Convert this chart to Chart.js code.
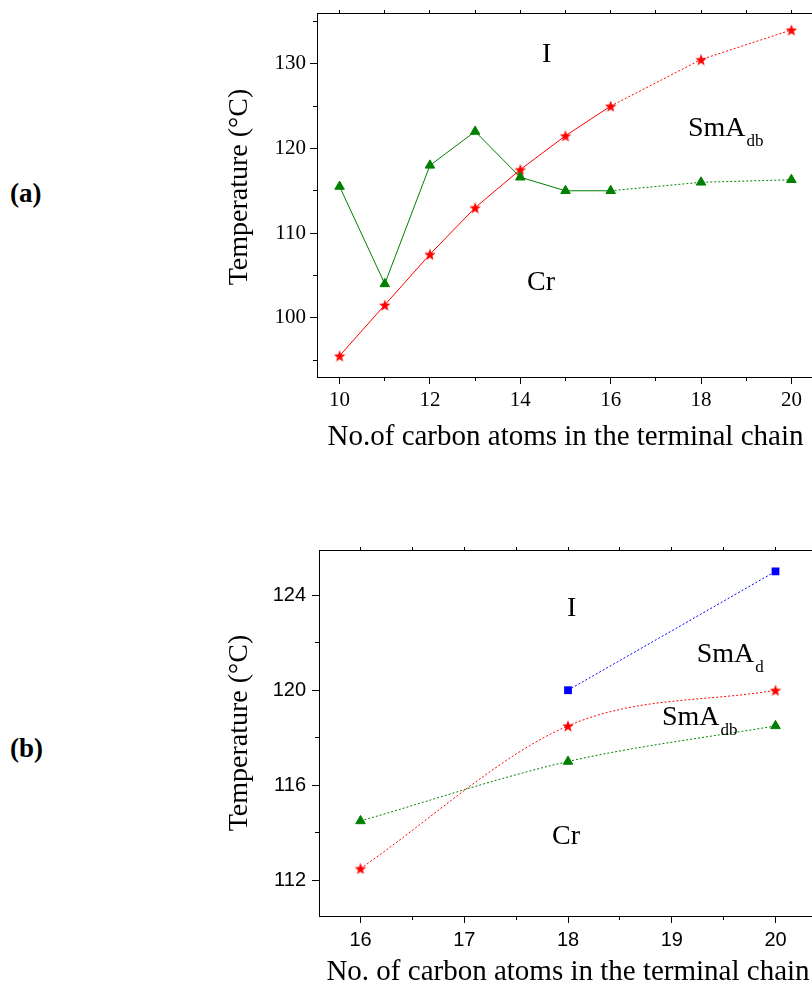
<!DOCTYPE html>
<html>
<head>
<meta charset="utf-8">
<script src="https://cdn.jsdelivr.net/npm/chart.js@4.4.0/dist/chart.umd.min.js"></script>
<style>
html, body { margin: 0; padding: 0; width: 812px; height: 986px; overflow: hidden; background: #fff; }
.panel { position: absolute; left: 200px; width: 640px; }
#wrapA { top: 0; height: 470px; }
#wrapB { top: 500px; height: 500px; }
.tag { position: absolute; left: 10px; font: bold 27px 'Liberation Serif', 'Times New Roman', serif; line-height: 27px; }
</style>
</head>
<body>
<div class="tag" style="top:180px">(a)</div>
<div class="tag" style="top:735px">(b)</div>
<div class="panel" id="wrapA"><canvas id="chartA"></canvas></div>
<div class="panel" id="wrapB"><canvas id="chartB"></canvas></div>
<script>
// ---- panel (a) ----
var carbonA   = [10, 11, 12, 13, 14, 15, 16, 18, 20];
var clearA    = [95.5, 101.5, 107.5, 113, 117.5, 121.5, 125, 130.5, 134];   // red stars
var meltA     = [115.5, 104, 118, 122, 116.6, 115, 115, 116, 116.3];        // green triangles
var xTicksA   = [10, 12, 14, 16, 18, 20];
var xMinorA   = [11, 13, 15, 17, 19];
var yTicksA   = [100, 110, 120, 130];
var yMinorA   = [95, 105, 115, 125, 135];

// ---- panel (b) ----
var carbonB   = [16, 18, 20];
var carbonBd  = [18, 20];
var smadB     = [120, 125];          // blue squares
var clearB    = [112.5, 118.5, 120]; // red stars
var meltB     = [114.5, 117, 118.5]; // green triangles
var xTicksB   = [16, 17, 18, 19, 20];
var xMinorB   = [16.5, 17.5, 18.5, 19.5];
var yTicksB   = [112, 116, 120, 124];
var yMinorB   = [114, 118, 122];

var SERIF = "'Liberation Serif', 'Times New Roman', serif";
var SANS  = "'Liberation Sans', Arial, sans-serif";
var RED = '#ff0000', GREEN = '#008000', BLUE = '#0000ff';

function pts(xs, ys) {
  return xs.map(function (x, i) { return { x: x, y: ys[i] }; });
}

function makeStar(size, color) {
  var c = document.createElement('canvas');
  c.width = size; c.height = size;
  var g = c.getContext('2d');
  var r = size / 2, ri = r * 0.42;
  g.beginPath();
  for (var i = 0; i < 10; i++) {
    var rad = i % 2 ? ri : r;
    var a = -Math.PI / 2 + i * Math.PI / 5;
    g.lineTo(r + rad * Math.cos(a), r + rad * 1.05 * Math.sin(a) + 0.6);
  }
  g.closePath();
  g.fillStyle = color;
  g.fill();
  return c;
}
var star = makeStar(12, RED);

function setTicks(values) {
  return function (scale) { scale.ticks = values.map(function (v) { return { value: v }; }); };
}
function fixSize(prop, size) {
  return function (s) {
    s[prop] = size;
    s.paddingTop = 0; s.paddingBottom = 0; s.paddingLeft = 0; s.paddingRight = 0;
  };
}

// frame around the plot area
var framePlugin = {
  id: 'frame',
  afterDatasetsDraw: function (chart) {
    var a = chart.chartArea, ctx = chart.ctx;
    ctx.save();
    ctx.strokeStyle = '#000';
    ctx.lineWidth = 1;
    ctx.strokeRect(Math.round(a.left) + 0.5, Math.round(a.top) + 0.5,
                   Math.round(a.right - a.left), Math.round(a.bottom - a.top));
    ctx.restore();
  }
};

// phase labels (I, Cr, SmA...) and the vertical axis title
var phasePlugin = {
  id: 'phases',
  afterDraw: function (chart, args, opts) {
    var ctx = chart.ctx, x = chart.scales.x, y = chart.scales.y;
    ctx.save();
    ctx.fillStyle = '#000';
    ctx.textBaseline = 'alphabetic';
    ctx.textAlign = 'left';
    opts.items.forEach(function (it) {
      var px = x.getPixelForValue(it.x), py = y.getPixelForValue(it.y);
      ctx.font = '28px ' + SERIF;
      ctx.fillText(it.text, px, py);
      if (it.sub) {
        var w = ctx.measureText(it.text).width;
        ctx.font = '17px ' + SERIF;
        ctx.fillText(it.sub, px + w + 1, py + 10);
      }
    });
    // y axis title
    ctx.translate(opts.yTitle.x, opts.yTitle.y);
    ctx.rotate(-Math.PI / 2);
    ctx.textAlign = 'center';
    ctx.textBaseline = 'middle';
    ctx.font = '28px ' + SERIF;
    ctx.fillText('Temperature (\u00B0C)', 0, 0);
    ctx.restore();
  }
};

function buildScales(o) {
  return {
    x: {
      type: 'linear', position: 'bottom', min: o.xMin, max: o.xMax, weight: 0,
      afterBuildTicks: setTicks(o.xTicks),
      afterFit: fixSize('height', o.xHeight),
      border: { display: false },
      grid: { drawOnChartArea: false, tickLength: 7, tickColor: '#000' },
      ticks: { color: '#000', font: o.tickFont, padding: o.xPad, maxRotation: 0, autoSkip: false },
      title: { display: true, text: o.xTitle, color: '#000', font: { family: SERIF, size: 29 },
               padding: { top: 0, bottom: o.xTitlePad } }
    },
    xMinor: {
      type: 'linear', position: 'bottom', min: o.xMin, max: o.xMax, weight: -1,
      afterBuildTicks: setTicks(o.xMinor),
      afterFit: fixSize('height', 0),
      border: { display: false },
      grid: { drawOnChartArea: false, tickLength: 4, tickColor: '#000' },
      ticks: { display: false }
    },
    xTop: {
      type: 'linear', position: 'top', min: o.xMin, max: o.xMax,
      afterBuildTicks: setTicks(o.xTicks.concat(o.xMinor)),
      afterFit: fixSize('height', 0),
      border: { display: false },
      grid: { drawOnChartArea: false, tickLength: 3, tickColor: '#000' },
      ticks: { display: false }
    },
    y: {
      type: 'linear', position: 'left', min: o.yMin, max: o.yMax, weight: 0,
      afterBuildTicks: setTicks(o.yTicks),
      afterFit: fixSize('width', o.yWidth),
      border: { display: false },
      grid: { drawOnChartArea: false, tickLength: 7, tickColor: '#000' },
      ticks: { color: '#000', font: o.tickFont, padding: o.yPad }
    },
    yMinor: {
      type: 'linear', position: 'left', min: o.yMin, max: o.yMax, weight: -1,
      afterBuildTicks: setTicks(o.yMinor),
      afterFit: fixSize('width', 0),
      border: { display: false },
      grid: { drawOnChartArea: false, tickLength: 4, tickColor: '#000' },
      ticks: { display: false }
    }
  };
}

// ---------- chart (a) ----------
new Chart(document.getElementById('chartA'), {
  type: 'line',
  data: {
    datasets: [{
      data: pts(carbonA, meltA),
      borderColor: GREEN, backgroundColor: GREEN, borderWidth: 1,
      pointStyle: 'triangle', pointRadius: 5.5, pointBorderWidth: 1,
      pointBorderColor: GREEN, pointBackgroundColor: GREEN,
      segment: { borderDash: function (c) { return c.p0.parsed.x >= 16 ? [2, 2] : undefined; } }
    }, {
      data: pts(carbonA, clearA),
      borderColor: RED, backgroundColor: RED, borderWidth: 1,
      pointStyle: star, pointRadius: 6,
      segment: { borderDash: function (c) { return c.p0.parsed.x >= 16 ? [2, 2] : undefined; } }
    }]
  },
  options: {
    responsive: true, maintainAspectRatio: false, animation: false,
    layout: { padding: { top: 13, right: 26, bottom: 0, left: 0 } },
    plugins: {
      legend: { display: false }, tooltip: { enabled: false },
      phases: {
        yTitle: { x: 40, y: 187 },
        items: [
          { text: 'I', x: 14.48, y: 130.2 },
          { text: 'SmA', sub: 'db', x: 17.71, y: 121.47 },
          { text: 'Cr', x: 14.15, y: 103.28 }
        ]
      }
    },
    scales: buildScales({
      xMin: 9.5, xMax: 20.5, yMin: 93, yMax: 136,
      xTicks: xTicksA, xMinor: xMinorA, yTicks: yTicksA, yMinor: yMinorA,
      xHeight: 93, yWidth: 117, xPad: 4, yPad: 4, xTitlePad: 15,
      tickFont: { family: SERIF, size: 21 },
      xTitle: 'No.of carbon atoms in the terminal chain'
    })
  },
  plugins: [framePlugin, phasePlugin]
});

// ---------- chart (b) ----------
new Chart(document.getElementById('chartB'), {
  type: 'line',
  data: {
    datasets: [{
      data: pts(carbonB, meltB),
      borderColor: GREEN, borderWidth: 1, borderDash: [2, 2],
      cubicInterpolationMode: 'monotone',
      pointStyle: 'triangle', pointRadius: 5.5, pointBorderWidth: 1,
      pointBorderColor: GREEN, pointBackgroundColor: GREEN
    }, {
      data: pts(carbonB, clearB),
      borderColor: RED, borderWidth: 1, borderDash: [2, 2],
      cubicInterpolationMode: 'monotone',
      pointStyle: star, pointRadius: 6
    }, {
      data: pts(carbonBd, smadB),
      borderColor: BLUE, borderWidth: 1, borderDash: [2, 2],
      pointStyle: 'rect', pointRadius: 5.5, pointBorderWidth: 0,
      pointBackgroundColor: BLUE
    }]
  },
  options: {
    responsive: true, maintainAspectRatio: false, animation: false,
    layout: { padding: { top: 50, right: 23, bottom: 0, left: 0 } },
    plugins: {
      legend: { display: false }, tooltip: { enabled: false },
      phases: {
        yTitle: { x: 40, y: 233 },
        items: [
          { text: 'I', x: 17.99, y: 123.12 },
          { text: 'SmA', sub: 'd', x: 19.24, y: 121.19 },
          { text: 'SmA', sub: 'db', x: 18.906, y: 118.54 },
          { text: 'Cr', x: 17.846, y: 113.53 }
        ]
      }
    },
    scales: buildScales({
      xMin: 15.6, xMax: 20.4, yMin: 110.5, yMax: 125.9,
      xTicks: xTicksB, xMinor: xMinorB, yTicks: yTicksB, yMinor: yMinorB,
      xHeight: 84, yWidth: 119, xPad: 5, yPad: 6, xTitlePad: 10,
      tickFont: { family: SANS, size: 20 },
      xTitle: 'No. of carbon atoms in the terminal chain'
    })
  },
  plugins: [framePlugin, phasePlugin]
});
</script>
</body>
</html>
